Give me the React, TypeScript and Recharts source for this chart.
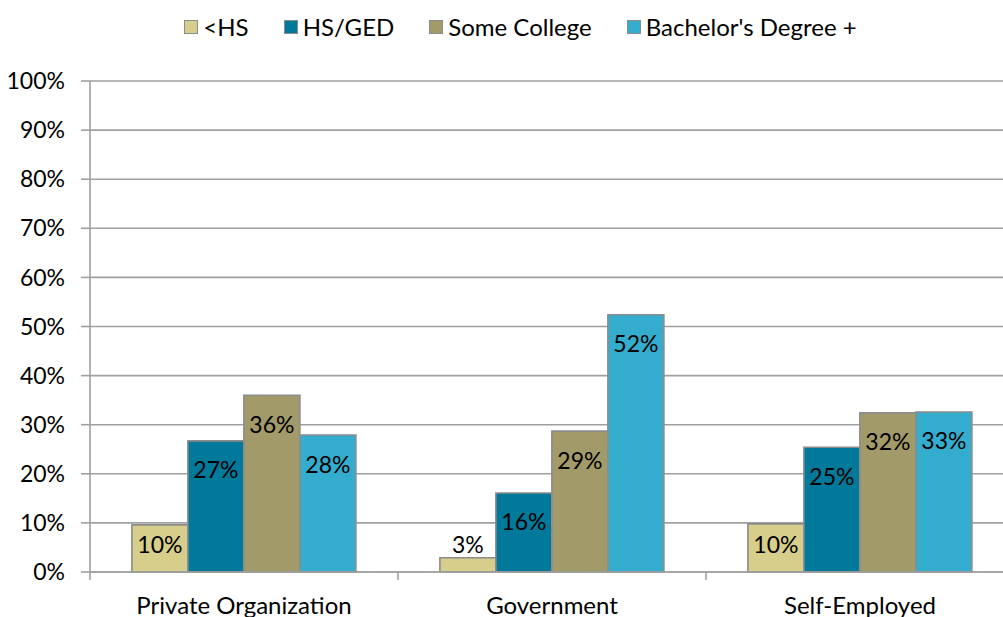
import React from "react";
import { BarChart, Bar, XAxis, YAxis, CartesianGrid, Legend, LabelList } from "recharts";

const categories = ["Private Organization", "Government", "Self-Employed"];
const seriesNames = ["<HS", "HS/GED", "Some College", "Bachelor's Degree +"];
const lessHS = [9.6, 2.9, 9.8];
const hsGed = [26.7, 16.1, 25.4];
const someCollege = [36.0, 28.7, 32.4];
const bachelors = [27.9, 52.4, 32.6];
const yTicks = [0, 10, 20, 30, 40, 50, 60, 70, 80, 90, 100];

const colors = ["#D6CE8A", "#00799A", "#A39A6A", "#33ACCD"];
const keys = ["lessHS", "hsGed", "someCollege", "bachelors"];
const FONT = "Lato, 'Open Sans', sans-serif";
const GRID = "#A0A0A0";

const data = categories.map((c, i) => ({
  name: c,
  lessHS: lessHS[i],
  hsGed: hsGed[i],
  someCollege: someCollege[i],
  bachelors: bachelors[i],
}));

const renderLabel = (props: any) => {
  const { x, y, width, height, value } = props;
  const cy = Math.min(y + 29.5, y + height - 27);
  return (
    <text x={x + width / 2} y={cy + 8} textAnchor="middle" fontSize={23} fontFamily={FONT} fill="#000">
      {`${Math.round(value)}%`}
    </text>
  );
};

const CategoryTick = (props: any) => {
  const { x, y, payload, index, visibleTicksCount } = props;
  const half = payload && typeof payload.offset === "number" ? payload.offset : 0;
  const isLast = index === (visibleTicksCount ?? categories.length) - 1;
  return (
    <g>
      {half > 0 && (
        <line x1={x - half} x2={x - half} y1={y} y2={y + 8} stroke={GRID} strokeWidth={1.6} />
      )}
      {half > 0 && isLast && (
        <line x1={x + half} x2={x + half} y1={y} y2={y + 8} stroke={GRID} strokeWidth={1.6} />
      )}
      <text x={x} y={y + 42} textAnchor="middle" fontSize={24} fontFamily={FONT} fill="#000">
        {payload.value}
      </text>
    </g>
  );
};

const LegendContent = () => (
  <div style={{ display: "flex", justifyContent: "center", alignItems: "center", fontFamily: FONT, fontSize: 24, color: "#000" }}>
    {seriesNames.map((n, i) => (
      <div key={n} style={{ display: "flex", alignItems: "center", marginLeft: i === 0 ? 0 : 35 }}>
        <span style={{ display: "inline-block", width: 12, height: 12, background: colors[i], border: `1.5px solid #8C8C8C`, marginRight: 5 }} />
        <span>{n}</span>
      </div>
    ))}
  </div>
);

export default function App() {
  return (
    <div style={{ position: "absolute", left: 0, top: 0, width: 1003, height: 617, overflow: "hidden", background: "#fff" }}>
      <BarChart
        width={1014}
        height={617}
        data={data}
        margin={{ top: 81, right: 0, left: 0, bottom: 0 }}
        barCategoryGap="13.6%"
        barGap={0}
      >
        <CartesianGrid horizontal vertical={false} stroke={GRID} strokeWidth={1.6} />
        <XAxis
          dataKey="name"
          height={45}
          tickLine={false}
          tickSize={0}
          tickMargin={0}
          axisLine={{ stroke: GRID, strokeWidth: 1.6 }}
          tick={<CategoryTick />}
          interval={0}
        />
        <YAxis
          domain={[0, 100]}
          ticks={yTicks}
          width={90}
          tickSize={9}
          tickMargin={16}
          tickFormatter={(v: number) => `${v}%`}
          tick={{ fontSize: 23, fontFamily: FONT, fill: "#000" }}
          axisLine={{ stroke: GRID, strokeWidth: 1.6 }}
          tickLine={{ stroke: GRID, strokeWidth: 1.6 }}
          interval={0}
        />
        <Legend
          layout="horizontal"
          verticalAlign="middle"
          align="center"
          content={<LegendContent />}
          wrapperStyle={{ position: "absolute", top: 12, left: 0, width: 1041 }}
        />
        {keys.map((k, i) => (
          <Bar key={k} dataKey={k} name={seriesNames[i]} fill={colors[i]} stroke="#8C8C8C" strokeWidth={1.6} isAnimationActive={false}>
            <LabelList dataKey={k} content={renderLabel} />
          </Bar>
        ))}
      </BarChart>
    </div>
  );
}
